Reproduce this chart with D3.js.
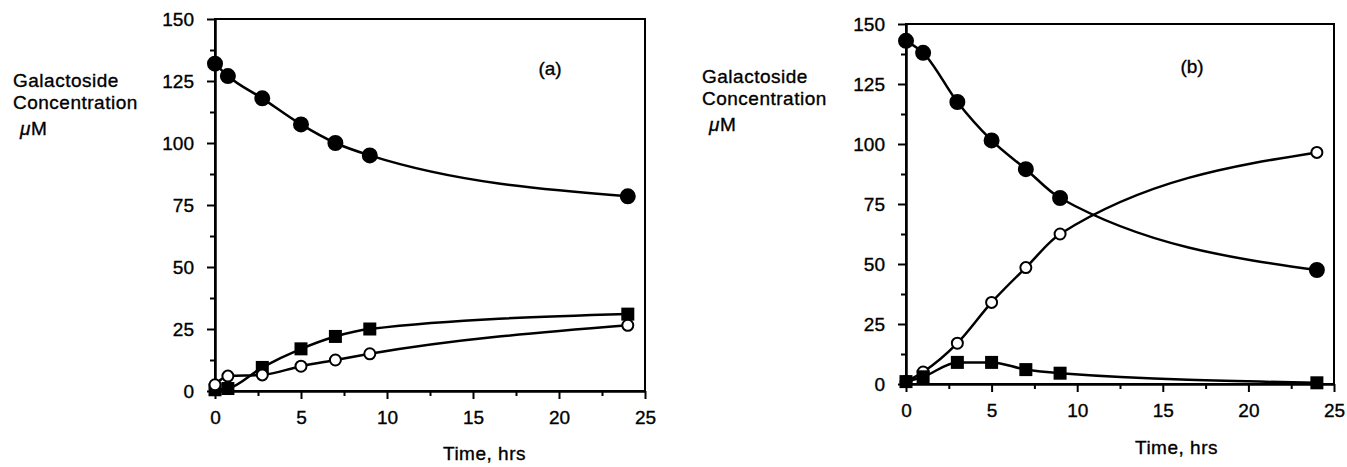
<!DOCTYPE html>
<html>
<head>
<meta charset="utf-8">
<script src="https://d3js.org/d3.v7.min.js"></script>
<style>
  body { margin: 0; background: #fff; }
  svg text { font-family: "Liberation Sans", Arial, Helvetica, sans-serif; fill: #000; stroke: #000; stroke-width: 0.35px; }
</style>
</head>
<body>
<svg id="drawing_region"></svg>
<script>
// values
const timesA = [0, 0.75, 2.75, 5, 7, 9, 24];
const filledCircleA = [132, 127, 118, 107.5, 100, 95, 78.5];
const filledSquareA = [0.5, 1, 9.5, 17, 22, 25, 31];
const openCircleA = [2.5, 6, 6.5, 10, 12.5, 15, 26.5];

const timesB = [0, 1, 3, 5, 7, 9, 24];
const filledCircleB = [143, 138, 117.5, 101.5, 89.5, 77.5, 47.5];
const openCircleB = [1, 5, 17, 34, 48.5, 62.5, 96.5];
const filledSquareB = [1, 3, 9, 9, 6, 4.5, 0.5];

const xTicks = [0, 5, 10, 15, 20, 25];
const xMinorTicks = [2.5, 7.5, 12.5, 17.5, 22.5];
const yTicks = [0, 25, 50, 75, 100, 125, 150];
const yMinorTicks = [12.5, 37.5, 62.5, 87.5, 112.5, 137.5];
const yLabelLines = ['Galactoside', 'Concentration'];
const xLabel = 'Time, hrs';

const svg = d3.select('#drawing_region')
    .attr('width', 1347)
    .attr('height', 467);

class KineticsPlot {

    constructor(config, series) {
	this.config = config;
	this.series = series;
	this.init();
    }

    init() {
	let self = this;
	const c = self.config;

	self.chart = svg.append('g')
	    .attr('transform', `translate(${c.left}, ${c.top})`);

	self.xscale = d3.scaleLinear()
	    .domain([0, 25])
	    .range([0, c.width]);

	self.yscale = d3.scaleLinear()
	    .domain([0, 150])
	    .range([c.height, 0]);

	self.render();
    }

    render() {
	let self = this;
	const c = self.config;

	// minor ticks first
	self.chart.append('g')
	    .attr('transform', `translate(0, ${c.height})`)
	    .call(d3.axisBottom(self.xscale).tickValues(xMinorTicks).tickSize(5).tickSizeOuter(0).tickFormat(''));
	self.chart.append('g')
	    .call(d3.axisLeft(self.yscale).tickValues(yMinorTicks).tickSize(5).tickSizeOuter(0).tickFormat(''));

	self.chart.append('g')
	    .attr('transform', `translate(0, ${c.height})`)
	    .call(d3.axisBottom(self.xscale).tickValues(xTicks).tickSize(8).tickSizeOuter(0).tickPadding(12));
	self.chart.append('g')
	    .call(d3.axisLeft(self.yscale).tickValues(yTicks).tickSize(8).tickSizeOuter(0).tickPadding(13));

	self.chart.selectAll('.domain').attr('stroke-width', 2);
	self.chart.selectAll('.tick line').attr('stroke-width', 2);
	self.chart.selectAll('.tick text').style('font-size', '19px');

	self.chart.append('rect')
	    .attr('x', 0).attr('y', 0)
	    .attr('width', c.width).attr('height', c.height)
	    .attr('fill', 'none')
	    .attr('stroke', '#000')
	    .attr('stroke-width', 2);

	const line = d3.line()
	    .x(d => self.xscale(d.t))
	    .y(d => self.yscale(d.v))
	    .curve(d3.curveMonotoneX);

	self.series.forEach(s => {
	    const pts = s.times.map((t, i) => ({t: t, v: s.values[i]}));

	    self.chart.append('path')
		.attr('d', line(pts))
		.attr('fill', 'none')
		.attr('stroke', '#000')
		.attr('stroke-width', 2.5);

	    if (s.marker === 'square') {
		self.chart.selectAll(null).data(pts).join('rect')
		    .attr('x', d => self.xscale(d.t) - 6.5)
		    .attr('y', d => self.yscale(d.v) - 6.5)
		    .attr('width', 13).attr('height', 13)
		    .attr('fill', '#000');
	    } else {
		self.chart.selectAll(null).data(pts).join('circle')
		    .attr('cx', d => self.xscale(d.t))
		    .attr('cy', d => self.yscale(d.v))
		    .attr('r', s.marker === 'filled' ? 7 : 5.5)
		    .attr('fill', s.marker === 'filled' ? '#000' : '#fff')
		    .attr('stroke', '#000')
		    .attr('stroke-width', 2);
	    }
	});

	// panel tag
	self.chart.append('text')
	    .attr('x', c.tagX)
	    .attr('y', c.tagY)
	    .attr('text-anchor', 'middle')
	    .style('font-size', '19px')
	    .text(c.tag);

	// y label, three lines
	const ylab = svg.append('text')
	    .attr('x', c.ylabX)
	    .attr('y', c.ylabY)
	    .style('font-size', '19px')
	    .style('letter-spacing', '0.5px');
	yLabelLines.forEach((l, i) => {
	    ylab.append('tspan')
		.attr('x', c.ylabX)
		.attr('dy', i === 0 ? 0 : 22)
		.text(l);
	});
	const mu = ylab.append('tspan')
	    .attr('x', c.ylabX + 7)
	    .attr('dy', 26);
	mu.append('tspan').style('font-style', 'italic').text('\u03bc');
	mu.append('tspan').text('M');

	svg.append('text')
	    .attr('x', c.xlabX)
	    .attr('y', c.xlabY)
	    .style('font-size', '19px')
	    .style('letter-spacing', '0.5px')
	    .text(xLabel);
    }
}

const plotA = new KineticsPlot({
    left: 215, top: 19, width: 430, height: 372,
    tag: '(a)', tagX: 335, tagY: 56,
    ylabX: 13, ylabY: 87,
    xlabX: 443, xlabY: 460
}, [
    {times: timesA, values: filledCircleA, marker: 'filled'},
    {times: timesA, values: filledSquareA, marker: 'square'},
    {times: timesA, values: openCircleA, marker: 'open'}
]);

const plotB = new KineticsPlot({
    left: 906, top: 24, width: 428, height: 360,
    tag: '(b)', tagX: 286, tagY: 49,
    ylabX: 702, ylabY: 83,
    xlabX: 1135, xlabY: 454
}, [
    {times: timesB, values: filledCircleB, marker: 'filled'},
    {times: timesB, values: openCircleB, marker: 'open'},
    {times: timesB, values: filledSquareB, marker: 'square'}
]);
</script>
</body>
</html>
